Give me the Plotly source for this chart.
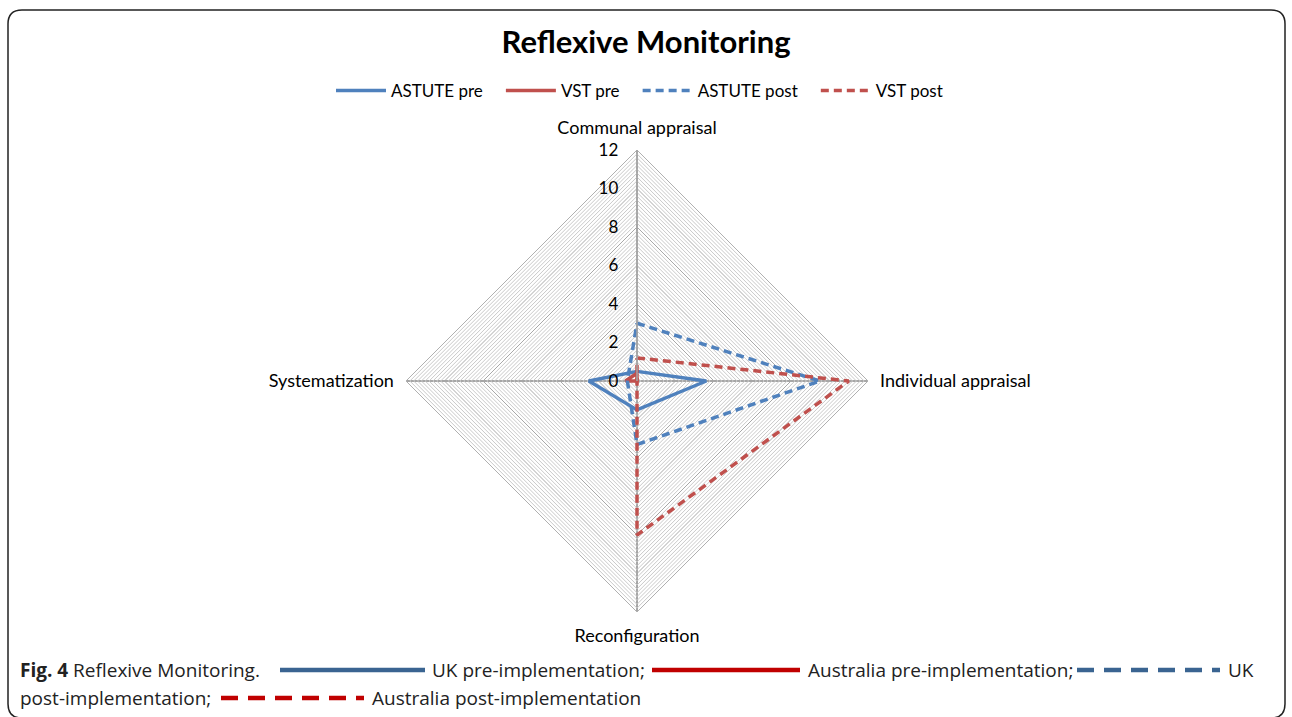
import plotly.graph_objects as go
import numpy as np

# ---- data ----
categories = ["Communal appraisal", "Individual appraisal", "Reconfiguration", "Systematization"]
astute_pre = [0.5, 3.6, 1.5, 2.5]
vst_pre = [0.4, 0.0, 0.0, 0.6]
astute_post = [3.0, 9.5, 3.3, 0.5]
vst_post = [1.2, 11.0, 8.0, 0.0]
series_names = ["ASTUTE pre", "VST pre", "ASTUTE post", "VST post"]
radial_ticks = [0, 2, 4, 6, 8, 10, 12]
minor_step = 0.2
r_max = 12

W, H = 1292, 717
def px(x):
    return x / W
def py(y):
    return 1 - y / H

BLUE = "#4F81BD"
RED = "#C0504D"

fig = go.Figure()

# minor grid rings
cats_closed = categories + [categories[0]]
minor_levels = [round(v, 2) for v in np.arange(minor_step, r_max, minor_step)
                if abs(v / 2 - round(v / 2)) > 1e-6]
for lv in minor_levels:
    fig.add_trace(go.Scatterpolar(
        r=[lv] * 5, theta=cats_closed, mode="lines",
        line=dict(color="#c9c9c9", width=1), hoverinfo="skip", showlegend=False))

def closed(v):
    return list(v) + [v[0]]

styles = [
    (astute_pre, BLUE, "solid"),
    (vst_pre, RED, "solid"),
    (astute_post, BLUE, "8px,5px"),
    (vst_post, RED, "8px,5px"),
]
pad = "\u00a0\u00a0\u00a0"
for name, (vals, col, dash) in zip(series_names, styles):
    fig.add_trace(go.Scatterpolar(
        r=closed(vals), theta=cats_closed, mode="lines", name=name + pad,
        line=dict(color=col, width=3.5, dash=dash)))

cx0, cx1 = px(637 - 231), px(637 + 231)
cy0, cy1 = py(381 + 231), py(381 - 231)

fig.update_layout(
    width=W, height=H,
    margin=dict(l=0, r=0, t=0, b=0),
    paper_bgcolor="white",
    font=dict(family="Lato, Open Sans, sans-serif", color="#000000"),
    title=dict(text="<b>Reflexive Monitoring</b>", x=0.5, xanchor="center",
               y=py(42), yanchor="middle", yref="paper",
               font=dict(size=31, family="Lato, Open Sans, sans-serif", color="#000")),
    legend=dict(orientation="h", x=0.5, xanchor="center", y=py(91), yanchor="middle",
                font=dict(size=17, family="Lato, Open Sans, sans-serif"), itemwidth=50,
                bgcolor="rgba(0,0,0,0)"),
    polar=dict(
        domain=dict(x=[cx0, cx1], y=[cy0, cy1]),
        bgcolor="white",
        gridshape="linear",
        radialaxis=dict(range=[0, r_max], tickvals=radial_ticks, angle=90,
                        side="counterclockwise", tickangle=90,
                        showline=True, linecolor="#a6a6a6", linewidth=1.5,
                        gridcolor="#a8a8a8", gridwidth=1,
                        ticks="outside", ticklen=12, tickcolor="rgba(0,0,0,0)",
                        tickfont=dict(size=17, color="#000")),
        angularaxis=dict(rotation=90, direction="clockwise",
                         showline=True, linecolor="#b0b0b0", linewidth=1,
                         gridcolor="#a6a6a6", gridwidth=1.5,
                         ticks="outside", ticklen=8, tickcolor="rgba(0,0,0,0)",
                         tickfont=dict(size=18, color="#000")),
    ),
)

# frame around the figure
r_x, r_y = 14 / W, 14 / H
x0, x1 = px(8), px(1285)
y0, y1 = py(10), py(718)
path = (f"M {x0 + r_x} {y0} L {x1 - r_x} {y0} Q {x1} {y0} {x1} {y0 - r_y} "
        f"L {x1} {y1 + r_y} Q {x1} {y1} {x1 - r_x} {y1} "
        f"L {x0 + r_x} {y1} Q {x0} {y1} {x0} {y1 + r_y} "
        f"L {x0} {y0 - r_y} Q {x0} {y0} {x0 + r_x} {y0} Z")
fig.add_shape(type="path", path=path, xref="paper", yref="paper",
              line=dict(color="#222", width=1.5))

# caption
cap_font = dict(size=19, family="Open Sans, sans-serif", color="#222")
def cap_text(x, y, t):
    fig.add_annotation(text=t, x=px(x), y=py(y), xref="paper", yref="paper",
                       xanchor="left", yanchor="middle", showarrow=False, font=cap_font)
def cap_line(xa, xb, y, col, dash):
    fig.add_shape(type="line", x0=px(xa), x1=px(xb), y0=py(y), y1=py(y),
                  xref="paper", yref="paper", line=dict(color=col, width=4.5, dash=dash))

UKC = "#3a6491"
AUC = "#c00000"
cap_text(18, 670, "<b>Fig. 4</b> Reflexive Monitoring.")
cap_line(280, 425, 670, UKC, "solid")
cap_text(430, 670, "UK pre-implementation;")
cap_line(652, 800, 670, AUC, "solid")
cap_text(806, 670, "Australia pre-implementation;")
cap_line(1077, 1220, 670, UKC, "17px,10px")
cap_text(1226, 670, "UK")
cap_text(18, 698, "post-implementation;")
cap_line(221, 364, 698, AUC, "17px,10px")
cap_text(370, 698, "Australia post-implementation")

fig.write_html("out.html", config={"displayModeBar": False},
               post_script="document.body.style.margin='0';document.body.style.overflow='hidden';")
